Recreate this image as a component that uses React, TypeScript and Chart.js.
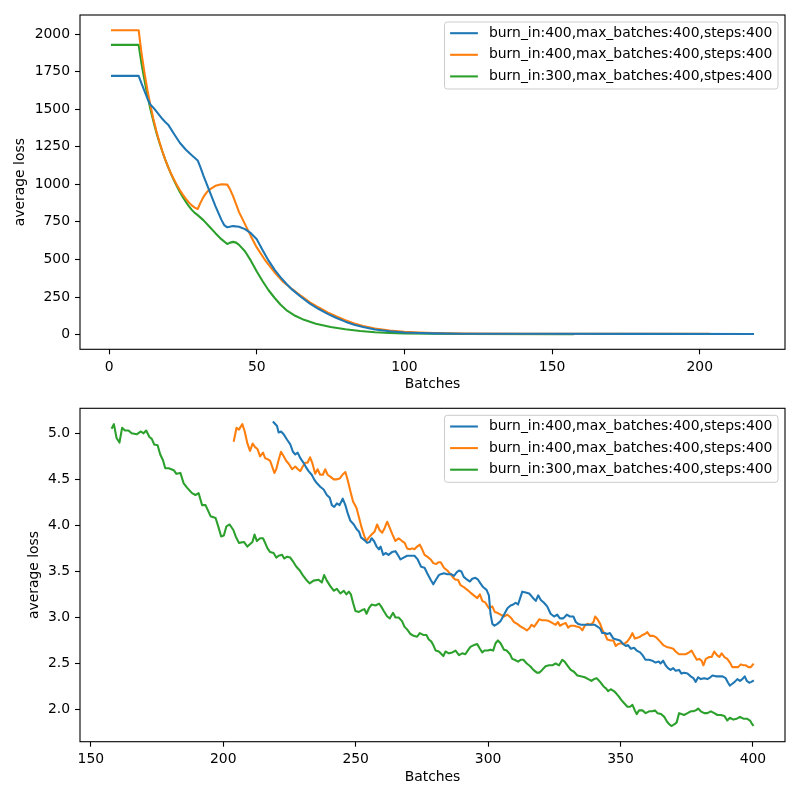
import { useEffect, useRef } from "react";
import { Chart, registerables } from "chart.js";

Chart.register(...registerables);

const BLUE = "#1f77b4";
const ORANGE = "#ff7f0e";
const GREEN = "#2ca02c";
const FONT = { family: '"DejaVu Sans", sans-serif', size: 13.9 };

// ---------- upper panel: full training run ----------
const topLabels = [
  "burn_in:400,max_batches:400,steps:400",
  "burn_in:400,max_batches:400,steps:400",
  "burn_in:300,max_batches:400,stpes:400",
];
const topXTicks = [0, 50, 100, 150, 200];
const topYTicks = [0, 250, 500, 750, 1000, 1250, 1500, 1750, 2000];

const topBlueX = [1, 10, 11, 12, 13, 14, 15, 16, 17, 18, 19, 20, 22, 24, 26, 28, 30, 31, 32, 33, 34, 35, 36, 37, 38, 39, 40, 42, 44, 46, 48, 50, 52, 54, 56, 58, 60, 62, 65, 68, 71, 74, 77, 80, 83, 86, 90, 95, 100, 105, 110, 120, 140, 180, 218];
const topBlueY = [1722, 1722, 1670, 1620, 1570, 1530, 1510, 1485, 1460, 1436, 1415, 1397, 1335, 1275, 1230, 1193, 1159, 1110, 1055, 1005, 955, 905, 855, 810, 765, 728, 714, 722, 718, 702, 675, 634, 562, 492, 432, 382, 338, 299, 250, 206, 170, 138, 110, 86, 66, 50, 34, 22, 14, 10, 8, 6, 5, 4.5, 4];

const topOrangeX = [1, 10, 11, 12, 13, 14, 15, 16, 17, 18, 19, 20, 21, 22, 23, 24, 25, 26, 27, 28, 29, 30, 31, 32, 33, 34, 36, 38, 40, 41, 42, 44, 46, 48, 50, 53, 56, 59, 62, 65, 68, 71, 74, 77, 80, 83, 86, 90, 95, 100, 105, 110, 120, 140, 180, 203];
const topOrangeY = [2026, 2026, 1870, 1740, 1625, 1525, 1435, 1355, 1285, 1222, 1165, 1115, 1070, 1030, 993, 960, 930, 903, 880, 860, 845, 836, 880, 918, 945, 965, 990, 1000, 998, 965, 920, 815, 735, 655, 580, 490, 415, 350, 302, 257, 215, 180, 148, 120, 95, 74, 57, 40, 27, 18, 13, 10, 7, 5.5, 5, 4.5];

const topGreenX = [1, 10, 11, 12, 13, 14, 15, 16, 17, 18, 19, 20, 21, 22, 23, 24, 25, 26, 27, 28, 29, 30, 32, 34, 36, 38, 40, 41, 42, 43, 44, 46, 48, 50, 52, 54, 56, 58, 60, 63, 66, 70, 75, 80, 85, 90, 95, 100, 110, 120, 157];
const topGreenY = [1928, 1928, 1800, 1690, 1590, 1500, 1420, 1345, 1280, 1220, 1165, 1115, 1068, 1025, 985, 948, 914, 883, 855, 830, 810, 795, 760, 718, 675, 635, 603, 612, 617, 612, 597, 555, 492, 420, 355, 295, 245, 200, 163, 125, 98, 72, 50, 35, 24, 16, 11, 8, 5, 4, 3];

// ---------- lower panel: tail of the run, [batch, loss] ----------
const bottomLabels = [
  "burn_in:400,max_batches:400,steps:400",
  "burn_in:400,max_batches:400,steps:400",
  "burn_in:300,max_batches:400,steps:400",
];
const bottomXTicks = [150, 200, 250, 300, 350, 400];
const bottomYTicks = [2.0, 2.5, 3.0, 3.5, 4.0, 4.5, 5.0];

const bottomBlue = [
  [219, 5.12], [220.3, 5.08], [220.9, 5.01], [221.8, 5.02], [222.8, 4.99], [224.1, 4.93], [225.3, 4.88], [226.3, 4.80], [227.2, 4.77], [228.1, 4.79],
  [229.1, 4.73], [230.3, 4.68], [231.3, 4.63], [232.2, 4.59], [233.4, 4.55], [234.3, 4.50], [235.3, 4.46], [236.6, 4.42], [237.9, 4.39], [239.1, 4.33],
  [240.2, 4.30], [241, 4.22], [241.9, 4.20], [242.9, 4.24], [243.9, 4.22], [245.1, 4.29], [246.1, 4.22], [247, 4.13], [248, 4.05], [249.3, 4.01],
  [250.3, 3.96], [251.3, 3.93], [252, 3.87], [253.3, 3.84], [254.3, 3.81], [255.3, 3.82], [256, 3.86], [256.9, 3.83], [257.9, 3.77], [258.8, 3.74],
  [259.4, 3.77], [260.4, 3.68], [261.3, 3.70], [262.4, 3.68], [263.7, 3.71], [265, 3.72], [265.9, 3.68], [266.9, 3.63], [268.1, 3.65], [269.4, 3.67],
  [270.9, 3.67], [272.2, 3.67], [273.4, 3.63], [274.7, 3.55], [276, 3.54], [277, 3.48], [278.3, 3.41], [279.3, 3.36], [280.3, 3.41], [281.4, 3.46],
  [282.1, 3.47], [283.3, 3.48], [284.6, 3.47], [286.1, 3.47], [287.1, 3.45], [288.1, 3.49], [289, 3.51], [289.9, 3.50], [290.8, 3.44], [292.1, 3.41],
  [293.1, 3.39], [294, 3.42], [295.2, 3.43], [296.2, 3.41], [297.1, 3.37], [298.1, 3.33], [299.4, 3.30], [300.3, 3.24], [300.9, 3.04], [301.6, 2.93],
  [302.4, 2.91], [303.5, 2.93], [304.7, 2.96], [306, 3.03], [307.3, 3.10], [308.5, 3.13], [309.5, 3.14], [310.4, 3.16], [311.3, 3.14], [312.1, 3.21],
  [312.9, 3.28], [314.2, 3.27], [315.5, 3.26], [316.7, 3.22], [318, 3.18], [318.9, 3.24], [319.9, 3.19], [321.1, 3.16], [322.3, 3.12], [323.6, 3.04],
  [324.9, 3.01], [326.1, 3.03], [327.1, 2.99], [328.4, 2.99], [329.7, 3.03], [330.9, 3.01], [332.2, 3.01], [333.1, 2.95], [334, 2.93], [335.2, 2.92],
  [336.5, 2.92], [337.8, 2.92], [339, 2.92], [340.3, 2.92], [341.3, 2.90], [342.3, 2.88], [343.1, 2.83], [344, 2.83], [345, 2.82], [346, 2.83],
  [347.3, 2.77], [348.5, 2.76], [349.8, 2.75], [351.1, 2.71], [352, 2.69], [352.8, 2.70], [353.9, 2.66], [355.1, 2.67], [356.1, 2.64], [357.4, 2.62],
  [358.3, 2.59], [359.4, 2.54], [360.7, 2.54], [362, 2.53], [363.2, 2.51], [364.5, 2.52], [365.1, 2.50], [366.1, 2.53], [367, 2.48], [367.9, 2.45],
  [368.9, 2.43], [369.9, 2.45], [370.8, 2.42], [372.1, 2.43], [373, 2.39], [374, 2.40], [375.3, 2.39], [376.5, 2.36], [377.5, 2.34], [378.4, 2.30],
  [379.3, 2.35], [380.3, 2.33], [381.6, 2.34], [382.8, 2.33], [383.9, 2.35], [384.7, 2.37], [386, 2.36], [387.3, 2.36], [388.5, 2.36], [389.7, 2.34],
  [390.6, 2.29], [391.3, 2.26], [392.2, 2.28], [393.1, 2.30], [394.1, 2.33], [395.1, 2.31], [396, 2.33], [396.9, 2.36], [397.7, 2.31], [398.6, 2.29],
  [399.4, 2.30], [400, 2.31],
];

const bottomOrange = [
  [204, 4.92], [205, 5.06], [205.9, 5.04], [207.2, 5.10], [208.1, 5.02], [209.1, 4.89], [210.1, 4.81], [211.1, 4.89], [212, 4.85], [212.9, 4.83],
  [213.9, 4.75], [215, 4.79], [215.8, 4.73], [216.7, 4.72], [217.7, 4.70], [218.7, 4.62], [219.3, 4.57], [220, 4.61], [220.9, 4.71], [221.8, 4.80],
  [222.8, 4.75], [223.8, 4.70], [224.7, 4.67], [226, 4.61], [227.2, 4.64], [228.2, 4.61], [229.1, 4.59], [230, 4.64], [230.9, 4.68], [231.8, 4.68],
  [232.8, 4.74], [233.7, 4.67], [234.7, 4.56], [235.6, 4.61], [236.6, 4.55], [237.6, 4.55], [238.5, 4.61], [239.4, 4.55], [240.4, 4.53], [241.7, 4.50],
  [242.9, 4.50], [244, 4.51], [245, 4.55], [246.1, 4.58], [247, 4.49], [248, 4.37], [249, 4.26], [250.3, 4.19], [251.3, 4.08], [252.3, 3.97],
  [253.3, 3.88], [254.1, 3.83], [255, 3.87], [256, 3.90], [257.1, 3.93], [258.1, 4.01], [259, 3.95], [260, 3.92], [260.9, 3.97], [261.9, 4.04],
  [262.9, 3.97], [263.9, 3.90], [265, 3.83], [266.2, 3.86], [267.5, 3.83], [268.5, 3.81], [269.4, 3.75], [270.4, 3.74], [271.3, 3.75], [272.2, 3.74],
  [273.2, 3.77], [274.2, 3.79], [275.1, 3.74], [276, 3.68], [277, 3.66], [278.3, 3.63], [279.3, 3.59], [280.3, 3.58], [281.4, 3.60], [282.1, 3.60],
  [283.3, 3.54], [284.6, 3.51], [285.8, 3.47], [286.9, 3.43], [287.7, 3.41], [288.6, 3.41], [289.6, 3.35], [290.8, 3.33], [292.1, 3.30], [293.3, 3.27],
  [294.6, 3.24], [295.9, 3.21], [296.9, 3.25], [297.8, 3.18], [299, 3.16], [300.3, 3.10], [301.6, 3.12], [302.5, 3.06], [303.5, 3.05], [304.7, 3.03],
  [306, 3.01], [307.3, 3.03], [308.5, 3.00], [309.8, 2.95], [311, 2.93], [312.3, 2.90], [313.6, 2.88], [314.6, 2.86], [315.5, 2.88], [316.4, 2.92],
  [317.4, 2.90], [318.6, 2.95], [319.3, 2.98], [320.4, 2.97], [321.7, 2.97], [323, 2.96], [324.2, 2.94], [325.5, 2.92], [326.4, 2.95], [327.1, 2.91],
  [328.4, 2.93], [329.3, 2.94], [330.2, 2.89], [331.2, 2.91], [332.4, 2.91], [333.7, 2.90], [334.7, 2.89], [335.6, 2.86], [336.5, 2.91], [337.5, 2.93],
  [338.8, 2.92], [339.8, 2.95], [340.4, 3.01], [341.3, 2.98], [342.3, 2.93], [343.2, 2.86], [344.1, 2.82], [345, 2.76], [346.3, 2.75], [347.3, 2.75],
  [348.2, 2.69], [349, 2.71], [350.1, 2.72], [351.3, 2.71], [352.6, 2.74], [353.6, 2.78], [354.5, 2.83], [355.4, 2.77], [356.4, 2.78], [357.4, 2.79],
  [358.3, 2.81], [359.2, 2.82], [360.1, 2.84], [361.1, 2.80], [362.4, 2.80], [363.6, 2.78], [364.9, 2.74], [366.1, 2.70], [367.4, 2.68], [368.7, 2.67],
  [369.9, 2.66], [370.8, 2.63], [372.1, 2.60], [373.4, 2.60], [374.6, 2.60], [375.9, 2.62], [376.8, 2.64], [377.8, 2.59], [378.8, 2.54], [379.7, 2.55],
  [380.6, 2.53], [381.3, 2.48], [382.2, 2.55], [383.5, 2.57], [384.4, 2.57], [385.4, 2.63], [386.4, 2.59], [387.3, 2.57], [388.2, 2.61], [389.2, 2.57],
  [390.3, 2.55], [391.3, 2.51], [392.2, 2.46], [393.5, 2.46], [394.4, 2.46], [395.4, 2.49], [396.4, 2.48], [397.3, 2.48], [398.3, 2.46], [399.2, 2.46],
  [400, 2.49],
];

const bottomGreen = [
  [158, 5.06], [158.7, 5.10], [159.7, 4.95], [160.8, 4.90], [161.8, 5.06], [162.9, 5.03], [164.2, 5.03], [165.4, 5.00], [167.3, 4.99], [168.9, 5.02],
  [169.9, 5.00], [170.9, 5.03], [172.1, 4.96], [173, 4.94], [173.9, 4.88], [175.2, 4.87], [176.2, 4.77], [177.2, 4.71], [178.1, 4.62], [179.4, 4.62],
  [181.3, 4.60], [182.3, 4.56], [183.8, 4.57], [185, 4.46], [186.3, 4.41], [188.2, 4.35], [189.5, 4.33], [190.7, 4.35], [192, 4.22], [193.3, 4.22],
  [195.2, 4.10], [197.1, 4.08], [198.3, 3.97], [199.2, 3.88], [200.2, 3.89], [201.2, 3.99], [202.4, 4.01], [203.8, 3.95], [204.7, 3.88], [205.9, 3.81],
  [207.8, 3.82], [209.1, 3.77], [211, 3.82], [211.8, 3.90], [212.7, 3.83], [213.9, 3.86], [215, 3.86], [215.8, 3.81], [216.7, 3.75], [217.7, 3.71],
  [219, 3.70], [220, 3.65], [220.9, 3.67], [222.2, 3.68], [223, 3.64], [224.1, 3.66], [225.3, 3.65], [226.3, 3.61], [227.6, 3.55], [228.9, 3.51],
  [230, 3.46], [231.3, 3.41], [232.6, 3.37], [234.1, 3.40], [236, 3.41], [237.2, 3.38], [238.1, 3.46], [239.1, 3.40], [240.4, 3.34], [241.7, 3.29],
  [242.9, 3.31], [244.2, 3.26], [245.5, 3.29], [246.5, 3.25], [247.4, 3.28], [248.2, 3.25], [249, 3.16], [249.9, 3.07], [251.2, 3.06], [252.4, 3.08],
  [253.3, 3.09], [254.1, 3.04], [255, 3.10], [256, 3.14], [257.5, 3.13], [258.8, 3.15], [259.6, 3.12], [260.6, 3.07], [261.9, 3.01], [262.9, 2.99],
  [264.1, 3.05], [265, 3.00], [266.2, 3.00], [267.5, 2.96], [268.4, 2.90], [269.4, 2.87], [270.7, 2.82], [271.9, 2.80], [273.2, 2.79], [274.2, 2.83],
  [275.5, 2.81], [276.7, 2.81], [277.6, 2.76], [278.5, 2.74], [279.3, 2.70], [280.2, 2.64], [281.4, 2.63], [283.1, 2.58], [283.9, 2.63], [285.2, 2.61],
  [286.5, 2.62], [287.7, 2.64], [289, 2.59], [290.2, 2.61], [291.4, 2.60], [292.3, 2.64], [293.3, 2.68], [294.6, 2.70], [295.9, 2.71], [296.9, 2.66],
  [297.8, 2.62], [298.6, 2.64], [299.9, 2.64], [300.9, 2.65], [301.9, 2.64], [302.8, 2.72], [303.7, 2.75], [304.7, 2.72], [306, 2.65], [307, 2.64],
  [308.3, 2.60], [309.1, 2.55], [310, 2.54], [311.3, 2.52], [312.3, 2.54], [313.3, 2.54], [314.6, 2.50], [315.9, 2.47], [317.1, 2.43], [318.4, 2.40],
  [319.3, 2.40], [320.4, 2.43], [321.7, 2.47], [323, 2.48], [324.2, 2.48], [325.5, 2.50], [326.8, 2.48], [328, 2.54], [328.9, 2.52], [329.9, 2.48],
  [331.2, 2.43], [332.4, 2.41], [333.7, 2.37], [335, 2.36], [336.5, 2.35], [337.8, 2.33], [339, 2.31], [340, 2.33], [341, 2.34], [342.3, 2.30],
  [343.6, 2.25], [344.5, 2.23], [345.3, 2.20], [346.3, 2.22], [347.5, 2.20], [348.5, 2.17], [349.4, 2.14], [350.1, 2.11], [351.3, 2.07], [352.6, 2.03],
  [353.6, 2.03], [354.5, 2.05], [355.4, 1.99], [356.1, 1.95], [357, 1.99], [358.3, 1.99], [359.5, 1.96], [360.8, 1.98], [362.1, 1.98], [363, 1.99],
  [364, 1.96], [365.3, 1.95], [366.5, 1.92], [367.5, 1.87], [368.4, 1.84], [369.2, 1.82], [370.4, 1.84], [371.2, 1.86], [372.1, 1.96], [373, 1.95],
  [374, 1.94], [375.3, 1.96], [376.5, 1.98], [377.5, 1.98], [378.4, 1.99], [379.3, 2.01], [380.3, 1.98], [381.6, 1.96], [382.8, 1.96], [384.1, 1.98],
  [385.4, 1.96], [386.6, 1.94], [387.9, 1.94], [389.2, 1.93], [390.3, 1.88], [391.3, 1.91], [392.6, 1.89], [393.9, 1.90], [395.1, 1.92], [396.4, 1.90],
  [397.7, 1.90], [398.9, 1.88], [399.5, 1.85], [400, 1.83],
];

const zip = (xs: number[], ys: number[]) => xs.map((x, i) => ({ x, y: ys[i] }));
const pairs = (p: number[][]) => p.map(([x, y]) => ({ x, y }));

// full box around the plotting area
const framePlugin = {
  id: "frame",
  afterDatasetsDraw(chart: any) {
    const { ctx, chartArea: a } = chart;
    ctx.save();
    ctx.strokeStyle = "#000";
    ctx.lineWidth = 1.1;
    ctx.strokeRect(a.left, a.top, a.right - a.left, a.bottom - a.top);
    ctx.restore();
  },
};

// legend drawn inside the plot, upper right
const boxLegendPlugin = {
  id: "boxLegend",
  afterDraw(chart: any) {
    const { ctx, chartArea: a } = chart;
    const fs = 13.9;
    const pad = 5.6;
    const handle = 27.8;
    const gap = 11.1;
    const rowGap = 21.6;
    ctx.save();
    ctx.font = `${fs}px "DejaVu Sans", sans-serif`;
    const sets = chart.data.datasets;
    const tw = Math.max(...sets.map((d: any) => ctx.measureText(d.label).width));
    const w = pad * 2 + handle + gap + tw;
    const h = 67;
    const right = a.right - 7;
    const top = a.top + 7;
    const left = right - w;
    const r = 2.8;
    ctx.beginPath();
    ctx.moveTo(left + r, top);
    ctx.arcTo(right, top, right, top + h, r);
    ctx.arcTo(right, top + h, left, top + h, r);
    ctx.arcTo(left, top + h, left, top, r);
    ctx.arcTo(left, top, right, top, r);
    ctx.closePath();
    ctx.fillStyle = "rgba(255,255,255,0.8)";
    ctx.fill();
    ctx.strokeStyle = "#cccccc";
    ctx.lineWidth = 1;
    ctx.stroke();
    sets.forEach((d: any, i: number) => {
      const cy = top + 11.2 + i * rowGap;
      ctx.strokeStyle = d.borderColor;
      ctx.lineWidth = 2.08;
      ctx.lineCap = "butt";
      ctx.beginPath();
      ctx.moveTo(left + pad, cy);
      ctx.lineTo(left + pad + handle, cy);
      ctx.stroke();
      ctx.fillStyle = "#000";
      ctx.textAlign = "left";
      ctx.textBaseline = "middle";
      ctx.fillText(d.label, left + pad + handle + gap, cy);
    });
    ctx.restore();
  },
};

function buildOptions(p: {
  xMin: number; xMax: number; yMin: number; yMax: number;
  xTicks: number[]; yTicks: number[]; yFmt: (v: number) => string;
  padTop: number; xHeight: number; xTitlePad: number; yTitlePad: number;
}) {
  const tickGrid = {
    drawOnChartArea: false,
    drawTicks: true,
    tickLength: 5,
    tickColor: "#000",
    tickWidth: 1.1,
  };
  return {
    responsive: false,
    animation: false,
    devicePixelRatio: 1,
    layout: { padding: { left: 0, right: 15, top: p.padTop, bottom: 0 } },
    plugins: { legend: { display: false }, tooltip: { enabled: false } },
    elements: {
      point: { radius: 0 },
      line: { borderWidth: 2.08, tension: 0, borderCapStyle: "square", borderJoinStyle: "round" },
    },
    scales: {
      x: {
        type: "linear",
        min: p.xMin,
        max: p.xMax,
        afterFit: (s: any) => {
          s.height = p.xHeight;
          s.paddingLeft = 0;
          s.paddingRight = 0;
        },
        afterBuildTicks: (s: any) => { s.ticks = p.xTicks.map((v) => ({ value: v })); },
        grid: tickGrid,
        border: { display: false },
        ticks: { color: "#000", font: FONT, padding: 4.5, maxRotation: 0, autoSkip: false, callback: (v: any) => String(v) },
        title: { display: true, text: "Batches", color: "#000", font: FONT, padding: { top: 0, bottom: p.xTitlePad } },
      },
      y: {
        type: "linear",
        min: p.yMin,
        max: p.yMax,
        afterFit: (s: any) => {
          s.width = 80;
          s.paddingTop = 0;
          s.paddingBottom = 0;
        },
        afterBuildTicks: (s: any) => { s.ticks = p.yTicks.map((v) => ({ value: v })); },
        grid: tickGrid,
        border: { display: false },
        ticks: { color: "#000", font: FONT, padding: 5, autoSkip: false, callback: (v: any) => p.yFmt(v) },
        title: { display: true, text: "average loss", color: "#000", font: FONT, padding: { top: p.yTitlePad, bottom: 0 } },
      },
    },
  };
}

export default function App() {
  const topRef = useRef<HTMLCanvasElement>(null);
  const bottomRef = useRef<HTMLCanvasElement>(null);

  useEffect(() => {
    const line = (label: string, color: string, data: any[]) => ({
      label, data, borderColor: color, backgroundColor: color, fill: false,
    });

    const top = new Chart(topRef.current as HTMLCanvasElement, {
      type: "line",
      data: {
        datasets: [
          line(topLabels[0], BLUE, zip(topBlueX, topBlueY)),
          line(topLabels[1], ORANGE, zip(topOrangeX, topOrangeY)),
          line(topLabels[2], GREEN, zip(topGreenX, topGreenY)),
        ],
      },
      options: buildOptions({
        xMin: -9.85, xMax: 228.85, yMin: -98, yMax: 2127,
        xTicks: topXTicks, yTicks: topYTicks, yFmt: (v) => String(v),
        padTop: 15, xHeight: 50.7, xTitlePad: 7.4, yTitlePad: 12.5,
      }) as any,
      plugins: [framePlugin, boxLegendPlugin],
    });

    const bottom = new Chart(bottomRef.current as HTMLCanvasElement, {
      type: "line",
      data: {
        datasets: [
          line(bottomLabels[0], BLUE, pairs(bottomBlue)),
          line(bottomLabels[1], ORANGE, pairs(bottomOrange)),
          line(bottomLabels[2], GREEN, pairs(bottomGreen)),
        ],
      },
      options: buildOptions({
        xMin: 145.9, xMax: 412.1, yMin: 1.65, yMax: 5.272,
        xTicks: bottomXTicks, yTicks: bottomYTicks, yFmt: (v) => v.toFixed(1),
        padTop: 8.3, xHeight: 58.3, xTitlePad: 14, yTitlePad: 25.9,
      }) as any,
      plugins: [framePlugin, boxLegendPlugin],
    });

    return () => {
      top.destroy();
      bottom.destroy();
    };
  }, []);

  return (
    <div style={{ position: "absolute", left: 0, top: 0, width: 800, height: 800, background: "#fff" }}>
      <canvas ref={topRef} width={800} height={400} style={{ display: "block" }} />
      <canvas ref={bottomRef} width={800} height={400} style={{ display: "block" }} />
    </div>
  );
}
